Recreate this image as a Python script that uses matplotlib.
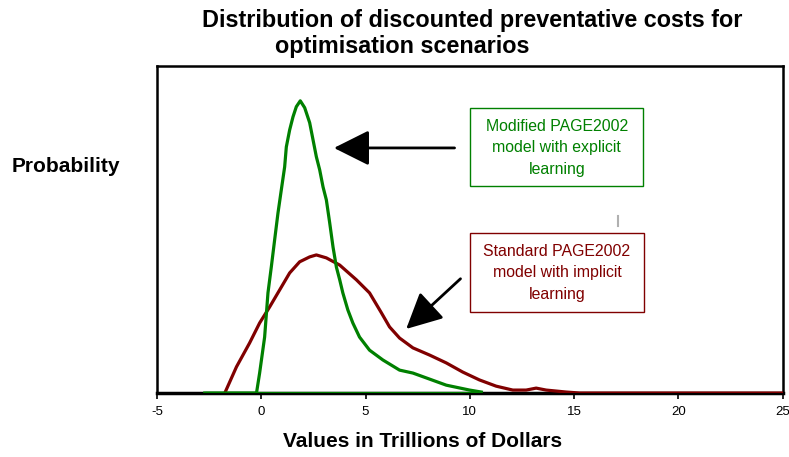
import matplotlib.pyplot as plt
from matplotlib.patches import FancyArrowPatch, Rectangle

plt.rcParams["font.family"] = ["Liberation Sans", "DejaVu Sans"]

# Modified PAGE2002 (explicit learning)
green_x = [-2.71, -0.23, -0.08, 0.16, 0.32, 0.48, 0.64, 0.80, 0.96, 1.12,
           1.20, 1.36, 1.52, 1.68, 1.87, 2.08, 2.32, 2.48, 2.64, 2.80,
           2.96, 3.12, 3.28, 3.44, 3.60, 3.76, 3.91, 4.15, 4.39, 4.71,
           5.19, 5.83, 6.63, 7.27, 8.87, 9.99, 10.55]
green_y = [0.0, 0.0, 0.061, 0.171, 0.306, 0.385, 0.468, 0.550, 0.621, 0.691,
           0.752, 0.804, 0.844, 0.875, 0.893, 0.872, 0.826, 0.774, 0.722, 0.682,
           0.630, 0.590, 0.520, 0.446, 0.385, 0.346, 0.306, 0.254, 0.214, 0.171,
           0.131, 0.101, 0.070, 0.061, 0.024, 0.009, 0.003]

# Standard PAGE2002 (implicit learning)
red_x = [-1.75, -1.19, -0.56, -0.08, 0.40, 0.88, 1.36, 1.84, 2.32, 2.64,
         3.12, 3.76, 4.56, 5.19, 5.76, 6.15, 6.63, 7.27, 8.07, 8.87,
         9.66, 10.46, 11.26, 12.06, 12.70, 13.18, 13.66, 14.62, 15.26, 24.98]
red_y = [0.0, 0.080, 0.153, 0.214, 0.263, 0.315, 0.367, 0.401, 0.416, 0.422,
         0.413, 0.391, 0.346, 0.306, 0.245, 0.202, 0.168, 0.138, 0.116, 0.092,
         0.064, 0.040, 0.021, 0.009, 0.009, 0.015, 0.009, 0.003, 0.0, 0.0]

x_ticks = [-5, 0, 5, 10, 15, 20, 25]

green = "#008000"
red = "#800000"

fig = plt.figure(figsize=(7.89, 4.57), dpi=100)
ax = fig.add_axes([0.199, 0.140, 0.793, 0.716])

ax.plot(red_x, red_y, color=red, lw=2.3, zorder=3)
ax.hlines(0, green_x[0], green_x[-1], color=green, lw=2.3, zorder=4)
ax.plot(green_x, green_y, color=green, lw=2.3, zorder=4)

ax.set_xlim(-5, 25)
ax.set_ylim(0, 1)
ax.set_xticks(x_ticks)
ax.set_xticklabels([str(t) for t in x_ticks], fontsize=9.5)
ax.set_yticks([])
ax.tick_params(axis="x", direction="out", length=4, width=1.2, pad=5)
for s in ax.spines.values():
    s.set_linewidth(1.8)
ax.spines["bottom"].set_linewidth(2.5)

fig.text(0.599, 0.956, "Distribution of discounted preventative costs for",
         ha="center", va="center", fontsize=16.8, fontweight="bold")
fig.text(0.510, 0.899, "optimisation scenarios",
         ha="center", va="center", fontsize=16.8, fontweight="bold")
fig.text(0.084, 0.635, "Probability", ha="center", va="center",
         fontsize=15, fontweight="bold")
fig.text(0.536, 0.034, "Values in Trillions of Dollars", ha="center",
         va="center", fontsize=15, fontweight="bold")

# annotation boxes
ax.add_patch(Rectangle((10.03, 0.633), 8.29, 0.239, fill=False, ec=green,
                       lw=1, zorder=5))
ax.text(14.17, 0.749, "Modified PAGE2002\nmodel with explicit\nlearning",
        ha="center", va="center", fontsize=11.4, color=green, linespacing=1.55)
ax.add_patch(Rectangle((9.99, 0.248), 8.38, 0.241, fill=True, fc="white",
                       ec=red, lw=1, zorder=5))
ax.text(14.18, 0.367, "Standard PAGE2002\nmodel with implicit\nlearning",
        ha="center", va="center", fontsize=11.4, color=red, linespacing=1.55,
        zorder=6)

ax.add_patch(FancyArrowPatch((9.4, 0.749), (3.35, 0.749),
                             arrowstyle="-|>,head_length=10,head_width=5",
                             color="black", lw=2, mutation_scale=2.2))
ax.add_patch(FancyArrowPatch((9.65, 0.355), (6.85, 0.19),
                             arrowstyle="-|>,head_length=10,head_width=5",
                             color="black", lw=2, mutation_scale=2.2))

# small grey mark
ax.plot([17.1, 17.1], [0.51, 0.54], color="#b0b0b0", lw=1.5)

fig.savefig("out.png", dpi=100)
